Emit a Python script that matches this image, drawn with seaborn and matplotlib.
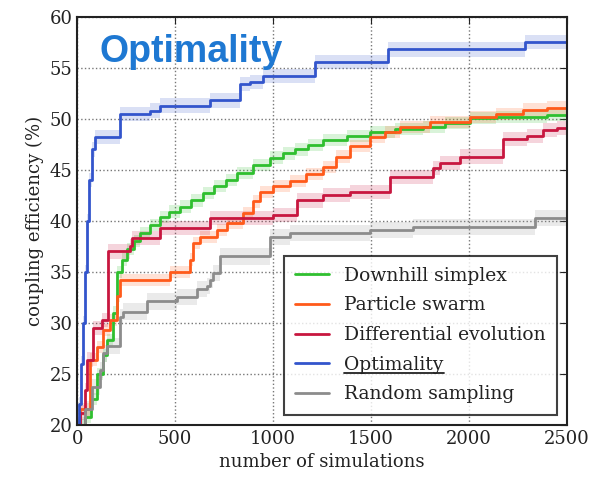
import pandas as pd
import matplotlib
matplotlib.use("Agg")
import matplotlib.pyplot as plt
from matplotlib.lines import Line2D
import seaborn as sns

# --- data (steps, x = number of simulations) ---
methods = ["Downhill simplex", "Particle swarm", "Differential evolution",
           "Optimality", "Random sampling"]
colors = ["#2fbf2f", "#ff5a1a", "#c8163f", "#3355cc", "#8c8c8c"]
spread = [0.6, 0.6, 0.7, 0.7, 0.8]

green_x = [0, 41, 70, 102, 130, 153, 184, 204, 230, 255, 290, 321, 370, 423, 470,
           525, 580, 643, 700, 760, 816, 900, 984, 1050, 1112, 1180, 1255, 1380,
           1494, 1620, 1765, 1880, 2004, 2140, 2275, 2400, 2500]
green_y = [20.0, 20.8, 22.5, 25.0, 26.8, 28.3, 31.0, 35.0, 36.2, 37.2, 38.0, 38.8,
           39.6, 40.4, 40.9, 41.4, 42.0, 42.7, 43.4, 44.0, 44.7, 45.5, 46.2, 46.6,
           47.0, 47.4, 47.9, 48.3, 48.7, 49.0, 49.2, 49.6, 50.1, 50.2, 50.2, 50.4,
           50.6]

orange_x = [0, 15, 66, 102, 133, 168, 204, 219, 459, 474, 561, 576, 592, 627, 714,
            765, 847, 898, 933, 1000, 1086, 1170, 1255, 1320, 1392, 1494, 1570,
            1647, 1800, 2004, 2140, 2275, 2400, 2500]
orange_y = [20.0, 21.5, 26.4, 27.6, 29.3, 30.3, 32.6, 34.2, 34.2, 35.0, 35.0, 36.2,
            37.8, 38.4, 39.1, 39.8, 40.8, 41.9, 42.8, 43.4, 43.9, 44.6, 45.3, 46.3,
            47.3, 48.2, 48.7, 49.2, 49.7, 50.2, 50.5, 50.9, 51.1, 51.3]

red_x = [0, 15, 41, 51, 82, 128, 158, 270, 281, 423, 678, 1000, 1122, 1255, 1392,
         1596, 1816, 1851, 1953, 2173, 2295, 2377, 2448, 2500]
red_y = [20.0, 21.2, 23.4, 26.4, 29.5, 30.3, 37.0, 37.5, 38.3, 39.3, 40.3, 40.6,
         42.0, 42.5, 42.8, 44.3, 45.2, 45.7, 46.3, 48.0, 48.3, 48.9, 49.1, 49.3]

blue_x = [0, 10, 20, 30, 40, 50, 60, 75, 90, 219, 372, 423, 678, 831, 882, 949,
          1214, 1586, 2285, 2500]
blue_y = [20.0, 22.0, 26.0, 30.0, 35.0, 40.0, 44.0, 47.0, 48.2, 50.5, 50.8, 51.3,
          51.8, 53.4, 53.6, 54.2, 55.6, 56.8, 57.5, 57.5]

gray_x = [0, 41, 77, 117, 133, 153, 219, 235, 357, 510, 612, 663, 678, 694, 729,
          984, 1086, 1494, 1714, 2336, 2500]
gray_y = [20.0, 21.5, 23.7, 25.4, 27.0, 27.7, 30.6, 31.1, 32.1, 32.5, 33.3, 33.6,
          34.2, 34.9, 36.5, 38.4, 38.8, 39.1, 39.4, 40.3, 40.4]

xs = [green_x, orange_x, red_x, blue_x, gray_x]
ys = [green_y, orange_y, red_y, blue_y, gray_y]

rows = []
for name, xx, yy in zip(methods, xs, ys):
    for a, b in zip(xx, yy):
        rows.append({"method": name, "sims": a, "eff": b})
df = pd.DataFrame(rows)

# --- style ---
sns.set_style("white")
plt.rcParams["font.family"] = ["DejaVu Serif"]

fig = plt.figure(figsize=(5.98, 4.8), dpi=100)
ax = fig.add_axes([0.129, 0.115, 0.819, 0.85])

# shaded bands
for name, xx, yy, c, s in zip(methods, xs, ys, colors, spread):
    lo = [v - s for v in yy]
    hi = [v + s for v in yy]
    ax.fill_between(xx, lo, hi, step="post", color=c, alpha=0.18, lw=0)

sns.lineplot(data=df, x="sims", y="eff", hue="method", hue_order=methods,
             palette=colors, estimator=None, sort=False, drawstyle="steps-post",
             linewidth=2, ax=ax)

ax.set_xlim(0, 2500)
ax.set_ylim(20, 60)
ax.set_xticks(range(0, 2501, 500))
ax.set_yticks(range(20, 61, 5))
ax.grid(True, linestyle=":", color="#777777", linewidth=1)
ax.tick_params(direction="in", top=True, right=True, length=5, labelsize=13,
               colors="#222222")
for sp in ax.spines.values():
    sp.set_color("#222222")
    sp.set_linewidth(1.5)
ax.set_xlabel("number of simulations", fontsize=13, color="#222222")
ax.set_ylabel("coupling efficiency (%)", fontsize=13, color="#222222")

leg = ax.legend(loc="lower right", bbox_to_anchor=(0.98, 0.025), fontsize=13.5,
                frameon=True, fancybox=False, labelspacing=0.62,
                handlelength=1.8, borderpad=0.6, borderaxespad=0)
leg.get_frame().set_edgecolor("#111111")
leg.get_frame().set_linewidth(1.5)
for t in leg.get_texts():
    t.set_color("#222222")

fig.text(0.167, 0.87, "Optimality", fontsize=27, fontweight="bold",
         color="#1e78d2", family="Liberation Sans")

# underline the Optimality entry in the legend
fig.canvas.draw()
r = fig.canvas.get_renderer()
for t in leg.get_texts():
    if t.get_text() == "Optimality":
        bb = t.get_window_extent(r)
        inv = fig.transFigure.inverted()
        (x0, y0), (x1, _) = inv.transform([(bb.x0, bb.y0 + 1), (bb.x1, bb.y0)])
        fig.add_artist(Line2D([x0, x1], [y0, y0], transform=fig.transFigure,
                              color="#222222", lw=1.3))

fig.savefig("out.png", dpi=100)
